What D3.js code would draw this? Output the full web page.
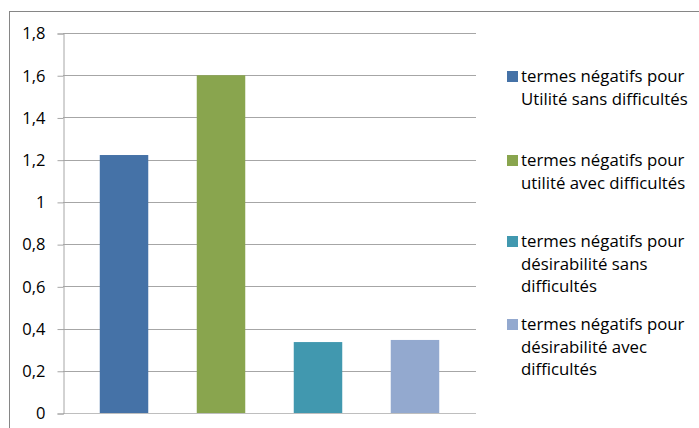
<!DOCTYPE html>
<html>
<head>
<meta charset="utf-8">
<script src="https://cdn.jsdelivr.net/npm/d3@7"></script>
<style>
  body { margin: 0; background: #fff; }
  text { font-family: "Open Sans", Lato, sans-serif; fill: #000; }
</style>
</head>
<body>
<div id="chart"></div>
<script>
var series = ["s1", "s2", "s3", "s4"];
var values = [1.222, 1.6, 0.336, 0.346];
var colors = ["#4572A7", "#89A54E", "#4198AF", "#93A9CF"];
var legendLines = [
  ["termes négatifs pour", "Utilité sans difficultés"],
  ["termes négatifs pour", "utilité avec difficultés"],
  ["termes négatifs pour", "désirabilité sans", "difficultés"],
  ["termes négatifs pour", "désirabilité avec", "difficultés"]
];
var yTicks = [0, 0.2, 0.4, 0.6, 0.8, 1, 1.2, 1.4, 1.6, 1.8];

var width = 699, height = 428;
var plotLeft = 63, plotRight = 476, plotTop = 33, plotBottom = 413;

var svg = d3.select("#chart").append("svg")
    .attr("width", width)
    .attr("height", height);

// outer chart border
svg.append("rect")
    .attr("x", 9.5).attr("y", 11.5)
    .attr("width", 720).attr("height", 440)
    .attr("fill", "none")
    .attr("stroke", "#868686");

var y = d3.scaleLinear().domain([0, 1.8]).range([plotBottom, plotTop]);
var x = d3.scaleBand().domain(series).range([plotLeft, plotRight])
    .paddingInner(0.5).paddingOuter(0.379);

var fmt = function(d) { return String(d).replace(".", ","); };

// gridlines
svg.selectAll(".grid")
    .data(yTicks)
    .enter().append("line")
    .attr("x1", plotLeft).attr("x2", plotRight)
    .attr("y1", function(d) { return Math.round(y(d)) + 0.5; })
    .attr("y2", function(d) { return Math.round(y(d)) + 0.5; })
    .attr("stroke", function(d) { return d === 0 ? "#BEBEBE" : "#A6A6A6"; })
    .attr("stroke-width", 1.2);

// y axis
var axis = svg.append("g")
    .attr("transform", "translate(" + (plotLeft + 0.5) + ",0.5)")
    .call(d3.axisLeft(y).tickValues(yTicks).tickFormat(fmt).tickSize(6).tickPadding(12));
axis.select(".domain").attr("stroke", "#A6A6A6");
axis.selectAll(".tick line").attr("stroke", "#A6A6A6");
axis.selectAll(".tick text")
    .style("font-size", "16.5px")
    .attr("fill", "#000");

// bars
svg.selectAll(".bar")
    .data(values)
    .enter().append("rect")
    .attr("x", function(d, i) { return x(series[i]); })
    .attr("width", x.bandwidth())
    .attr("y", function(d) { return y(d); })
    .attr("height", function(d) { return plotBottom - y(d); })
    .attr("fill", function(d, i) { return colors[i]; });

// legend (baseline of first line of each entry)
var baselines = [82, 166, 247, 330];
var leg = svg.selectAll(".leg")
    .data(legendLines)
    .enter().append("g")
    .attr("transform", function(d, i) { return "translate(507," + baselines[i] + ")"; });

leg.append("rect")
    .attr("x", 0).attr("y", -11)
    .attr("width", 11).attr("height", 11)
    .attr("fill", function(d, i) { return colors[i]; });

leg.each(function(lines) {
  var t = d3.select(this).append("text")
      .style("font-size", "16.8px");
  lines.forEach(function(l, j) {
    t.append("tspan")
        .attr("x", 14)
        .attr("y", j * 22.5)
        .text(l);
  });
});
</script>
</body>
</html>
